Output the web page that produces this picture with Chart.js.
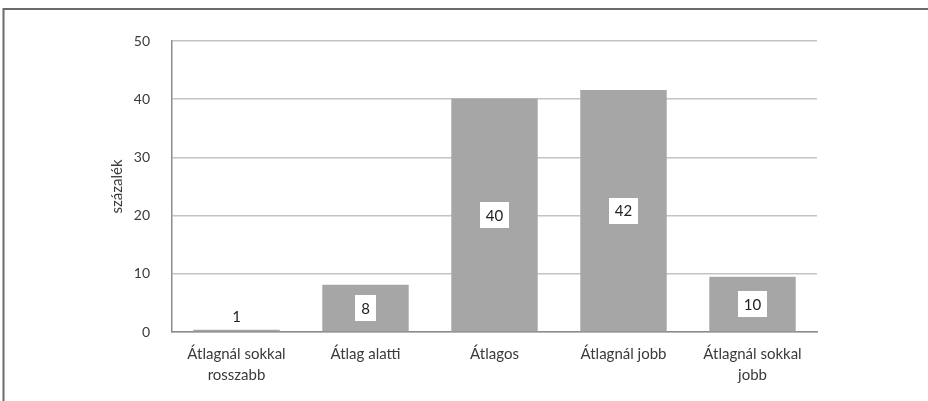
<!DOCTYPE html>
<html>
<head>
<meta charset="utf-8">
<script src="https://cdn.jsdelivr.net/npm/chart.js@4/dist/chart.umd.min.js"></script>
<style>
  html, body { margin: 0; padding: 0; background: #fff; }
  #wrap { position: relative; width: 928px; height: 401px; }
  canvas { display: block; }
</style>
</head>
<body>
<div id="wrap"><canvas id="c" width="928" height="401"></canvas></div>
<script>
const categories = [
  ['Átlagnál sokkal', 'rosszabb'],
  'Átlag alatti',
  'Átlagos',
  'Átlagnál jobb',
  ['Átlagnál sokkal', 'jobb']
];
const values = [0.4, 8.1, 40.1, 41.6, 9.5];
const valueLabels = ['1', '8', '40', '42', '10'];
const yAxisTitle = 'százalék';

const FONT = 'Lato, "Open Sans", sans-serif';
const TEXT = '#3a3a3a';

const framePlugin = {
  id: 'frame',
  beforeDraw(chart) {
    const ctx = chart.ctx;
    ctx.save();
    ctx.fillStyle = '#ffffff';
    ctx.fillRect(0, 0, chart.width, chart.height);
    ctx.strokeStyle = '#6b6b6b';
    ctx.lineWidth = 2;
    ctx.beginPath();
    ctx.moveTo(3.5, chart.height);
    ctx.lineTo(3.5, 9);
    ctx.lineTo(chart.width, 9);
    ctx.stroke();
    ctx.restore();
  }
};

const labelPlugin = {
  id: 'boxLabels',
  afterDatasetsDraw(chart) {
    const ctx = chart.ctx;
    const meta = chart.getDatasetMeta(0);
    ctx.save();
    ctx.font = '15px ' + FONT;
    ctx.textAlign = 'center';
    ctx.textBaseline = 'middle';
    const boxH = 26;
    meta.data.forEach((bar, i) => {
      const txt = valueLabels[i];
      const w = ctx.measureText(txt).width + 12;
      const barH = bar.base - bar.y;
      let cy;
      if (barH < boxH + 4) {
        cy = bar.y - 14;
      } else {
        cy = (bar.y + bar.base) / 2;
      }
      ctx.fillStyle = '#ffffff';
      ctx.fillRect(Math.round(bar.x - w / 2), Math.round(cy - boxH / 2), Math.round(w), boxH);
      ctx.fillStyle = '#222';
      ctx.fillText(txt, bar.x, cy + 1);
    });
    ctx.restore();
  }
};

new Chart(document.getElementById('c'), {
  type: 'bar',
  data: {
    labels: categories,
    datasets: [{
      data: values,
      backgroundColor: '#a6a6a6',
      borderWidth: 0,
      categoryPercentage: 1.0,
      barPercentage: 0.67
    }]
  },
  options: {
    responsive: false,
    animation: false,
    devicePixelRatio: 1,
    layout: { padding: { left: 108, right: 111, top: 41, bottom: 0 } },
    plugins: {
      legend: { display: false },
      tooltip: { enabled: false },
      title: { display: false }
    },
    scales: {
      x: {
        grid: { display: false, drawTicks: false },
        border: { display: true, color: '#8c8c8c', width: 1.5 },
        ticks: {
          color: TEXT,
          font: { family: FONT, size: 15, lineHeight: 1.4 },
          padding: 12,
          maxRotation: 0,
          autoSkip: false
        },
        afterFit(scale) { scale.height = 69; }
      },
      y: {
        min: 0,
        max: 50,
        ticks: {
          stepSize: 10,
          color: TEXT,
          font: { family: FONT, size: 14 },
          padding: 22
        },
        grid: { color: '#c4c4c4', lineWidth: 1.5, drawTicks: false },
        border: { display: true, color: '#8c8c8c', width: 1.5 },
        title: {
          display: true,
          text: yAxisTitle,
          color: TEXT,
          font: { family: FONT, size: 15 },
          padding: 0
        },
        afterFit(scale) { scale.width = 64; }
      }
    }
  },
  plugins: [framePlugin, labelPlugin]
});
</script>
</body>
</html>
